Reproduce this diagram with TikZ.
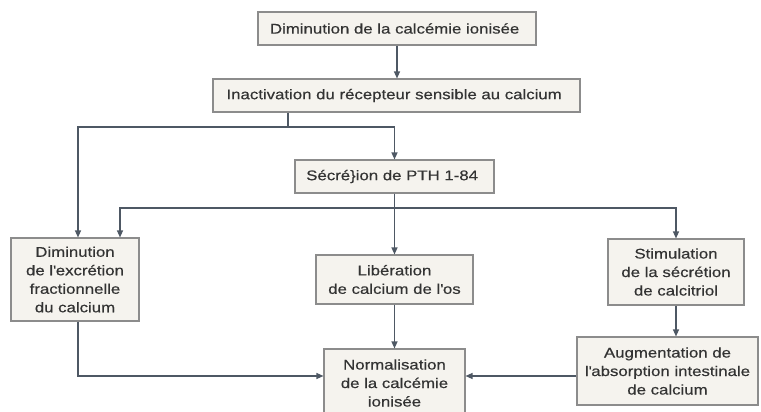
\documentclass[tikz,border=0pt]{standalone}
\usepackage{fontspec}
\setmainfont{Liberation Sans}[FakeStretch=1.2,FakeBold=0.4]
\usepackage{xcolor}
\usepackage{tikz}
\usetikzlibrary{
arrows.meta
}
\definecolor{boxfill}{HTML}{F5F3EE}
\definecolor{boxline}{HTML}{8C8C8C}
\definecolor{wire}{HTML}{4E5864}
\definecolor{ink}{HTML}{333333}

\tikzset{
stage/.style={
draw=boxline,
fill=boxfill,
line width=1.1pt,
text=ink,
align=center,
inner sep=0pt,
font=\fontsize{14}{18.5}\selectfont
},
flow/.style={
draw=wire,
line width=1.2pt,
-{Triangle[width=6pt,length=7pt]}
},
link/.style={
draw=wire,
line width=1.2pt
}
}

\begin{document}
\begin{tikzpicture}[x=1pt,y=-1pt]

\useasboundingbox (0,0) rectangle (761,412);

\node[
stage,
minimum width=278pt,
minimum height=33pt
]
(dim) at (397,28.5)
{
Diminution de la calcémie ionisée
};

\node[
stage,
minimum width=367pt,
minimum height=33pt
]
(inact) at (396.5,95.5)
{
Inactivation du récepteur sensible au calcium
};

\node[
stage,
minimum width=199pt,
minimum height=33pt
]
(pth) at (394.5,176.5)
{
Sécré\}ion de PTH 1-84
};

\node[
stage,
minimum width=128pt,
minimum height=83pt
]
(excr) at (75,279.5)
{
Diminution\\de l\textquotesingle excrétion\\fractionnelle\\du calcium
};

\node[
stage,
minimum width=157pt,
minimum height=49pt
]
(lib) at (394.5,279.5)
{
Libération\\de calcium de l\textquotesingle os
};

\node[
stage,
minimum width=136pt,
minimum height=66pt
]
(stim) at (676,272)
{
Stimulation\\de la sécrétion\\de calcitriol
};

\node[
stage,
minimum width=181pt,
minimum height=68pt
]
(augm) at (667.5,371)
{
Augmentation de\\l\textquotesingle absorption intestinale\\de calcium
};

\node[
stage,
minimum width=141pt,
minimum height=68pt
]
(norm) at (394.5,383)
{
Normalisation\\de la calcémie\\ionisée
};

% connectors
\coordinate (split1) at (288,127);
\coordinate (split2) at (395,208);
\coordinate (join) at ([yshift=7pt]norm.east);

\draw[flow] (dim.south) -- (dim.south |- inact.north);
\draw[link] (inact.south -| split1) -- (split1);
\draw[flow] (split1) -| ([xshift=3pt]excr.north);
\draw[flow] (split1) -| (pth.north);

\draw[link] (pth.south) -- (pth.south |- split2);
\draw[flow] (pth.south |- split2) -| ([xshift=45pt]excr.north);
\draw[flow] (pth.south |- split2) -| (stim.north);
\draw[flow] (pth.south) -- (lib.north);

\draw[flow] (lib.south) -- (norm.north);
\draw[flow] (stim.south) -- (stim.south |- augm.north);
\draw[flow] ([xshift=3pt]excr.south) |- ([yshift=7pt]norm.west);
\draw[flow] (augm.west |- join) -- (join);

\end{tikzpicture}
\end{document}
